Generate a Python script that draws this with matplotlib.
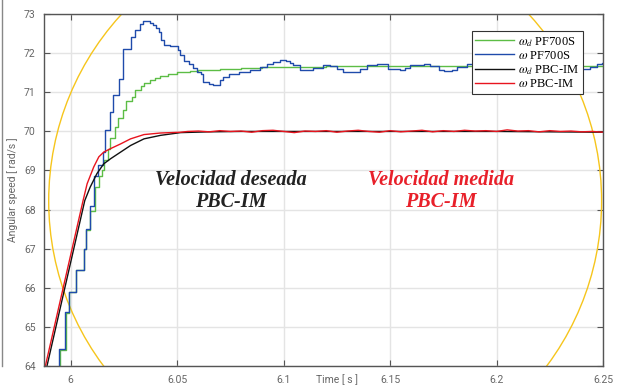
import matplotlib
matplotlib.use("Agg")
import matplotlib.pyplot as plt
from matplotlib.patches import Ellipse
from matplotlib.lines import Line2D

# PF700S reference and measured speed (sampled, held between samples)
t_pf_d = [5.9920, 5.9948, 5.9977, 5.9992, 6.0026, 6.0063, 6.0073, 6.0092, 6.0115,
          6.0132, 6.0145, 6.0155, 6.0175, 6.0185, 6.0210, 6.0220, 6.0245, 6.0260,
          6.0290, 6.0302, 6.0330, 6.0345, 6.0370, 6.0395, 6.0420, 6.0455, 6.0500,
          6.0560, 6.0600, 6.0700, 6.0800, 6.0900, 6.1000, 6.1200, 6.2510]
w_pf_d = [63.60, 64.40, 65.35, 65.88, 66.44, 66.98, 67.48, 67.97, 68.57,
          68.87, 69.00, 69.26, 69.56, 69.83, 70.11, 70.35, 70.54, 70.78,
          70.88, 71.05, 71.16, 71.25, 71.31, 71.36, 71.42, 71.48, 71.52,
          71.55, 71.58, 71.60, 71.63, 71.65, 71.66, 71.67, 71.67]

t_pf = [5.9920, 5.9945, 5.9975, 5.9990, 6.0025, 6.0061, 6.0071, 6.0089, 6.0110,
        6.0128, 6.0150, 6.0160, 6.0183, 6.0200, 6.0225, 6.0246, 6.0285, 6.0300,
        6.0325, 6.0340, 6.0370, 6.0385, 6.0400, 6.0415, 6.0425, 6.0440, 6.0465,
        6.0505, 6.0515, 6.0530, 6.0555, 6.0575, 6.0595, 6.0612, 6.0622, 6.0650,
        6.0670, 6.0700, 6.0716, 6.0745, 6.0790, 6.0840, 6.0890, 6.0920, 6.0950,
        6.0983, 6.1010, 6.1030, 6.1045, 6.1075, 6.1124, 6.1140, 6.1187, 6.1218,
        6.1250, 6.1281, 6.1328, 6.1359, 6.1391, 6.1438, 6.1461, 6.1492, 6.1547,
        6.1571, 6.1595, 6.1657, 6.1689, 6.1728, 6.1751, 6.1791, 6.1814, 6.1861,
        6.1900, 6.1950, 6.2000, 6.2050, 6.2100, 6.2150, 6.2200, 6.2250, 6.2300,
        6.2350, 6.2400, 6.2418, 6.2441, 6.2473, 6.2495, 6.2510]
w_pf = [63.60, 64.44, 65.37, 65.89, 66.46, 67.00, 67.50, 68.10, 68.85,
        69.15, 69.48, 70.03, 70.50, 70.93, 71.35, 72.10, 72.42, 72.60,
        72.76, 72.82, 72.78, 72.72, 72.66, 72.55, 72.35, 72.22, 72.18,
        72.08, 71.95, 71.80, 71.72, 71.62, 71.52, 71.48, 71.27, 71.22,
        71.18, 71.31, 71.39, 71.48, 71.52, 71.58, 71.65, 71.74, 71.78,
        71.82, 71.80, 71.76, 71.69, 71.58, 71.58, 71.63, 71.69, 71.68,
        71.61, 71.52, 71.52, 71.61, 71.69, 71.72, 71.72, 71.61, 71.58,
        71.63, 71.69, 71.72, 71.67, 71.58, 71.55, 71.58, 71.65, 71.72,
        71.70, 71.66, 71.62, 71.66, 71.70, 71.64, 71.60, 71.66, 71.70,
        71.64, 71.60, 71.61, 71.65, 71.72, 71.75, 71.75]

# PBC-IM reference and measured speed
t_pbc_d = [5.9872, 6.0066, 6.0091, 6.0123, 6.0155, 6.0187, 6.0234, 6.0281,
           6.0344, 6.0422, 6.0516, 6.0650, 6.0800, 6.2000, 6.2510]
w_pbc_d = [63.60, 68.23, 68.57, 68.92, 69.17, 69.30, 69.47, 69.64,
           69.81, 69.90, 69.97, 69.99, 70.00, 70.00, 69.98]

t_pbc = [5.9872, 6.0058, 6.0077, 6.0108, 6.0132, 6.0155, 6.0187, 6.0234,
         6.0281, 6.0344, 6.0422, 6.0516, 6.055, 6.060, 6.065, 6.070, 6.075,
         6.080, 6.085, 6.090, 6.095, 6.100, 6.105, 6.110, 6.115, 6.120,
         6.125, 6.130, 6.135, 6.140, 6.145, 6.150, 6.155, 6.160, 6.165,
         6.170, 6.175, 6.180, 6.185, 6.190, 6.195, 6.200, 6.205, 6.210,
         6.215, 6.220, 6.225, 6.230, 6.235, 6.240, 6.245, 6.250]
w_pbc = [63.78, 68.23, 68.66, 69.09, 69.35, 69.47, 69.56, 69.68,
         69.81, 69.92, 69.96, 69.98, 70.00, 70.01, 69.99, 70.02, 70.00,
         70.01, 69.98, 70.02, 70.03, 70.00, 69.97, 70.01, 70.00, 70.02,
         69.98, 70.01, 70.03, 70.00, 69.98, 70.02, 69.99, 70.01, 70.03,
         69.99, 70.02, 70.00, 70.03, 70.01, 70.02, 70.00, 70.04, 70.01,
         70.02, 69.99, 70.02, 70.00, 70.01, 69.99, 70.00, 69.98]

xticks = [6, 6.05, 6.1, 6.15, 6.2, 6.25]
xtick_labels = ['6', '6.05', '6.1', '6.15', '6.2', '6.25']
yticks = [64, 65, 66, 67, 68, 69, 70, 71, 72, 73]

plt.rcParams['mathtext.fontset'] = 'stix'

fig = plt.figure(figsize=(6.17, 3.91), dpi=100)
ax = fig.add_axes([0.0713, 0.0647, 0.906, 0.8987])

ax.plot(t_pf_d, w_pf_d, color='#5cbd45', lw=1.0, drawstyle='steps-post',
        label=r'$\omega_d$ PF700S')
ax.plot(t_pf, w_pf, color='#1f4bab', lw=1.0, drawstyle='steps-post',
        label=r'$\omega$ PF700S')
ax.plot(t_pbc_d, w_pbc_d, color='#111111', lw=1.0, label=r'$\omega_d$ PBC-IM')
ax.plot(t_pbc, w_pbc, color='#e8141e', lw=1.0, label=r'$\omega$ PBC-IM')

# highlight circle
ax.add_patch(Ellipse((6.1195, 68.22), 0.2597, 14.14, fill=False,
                     edgecolor='#f6c51c', lw=1.0, zorder=1))

ax.set_xlim(5.98744, 6.25)
ax.set_ylim(64, 73)
ax.set_xticks(xticks)
ax.set_xticklabels(xtick_labels)
ax.set_yticks(yticks)
ax.grid(True, color='#e4e4e4', lw=1.0)
ax.set_axisbelow(True)

for s in ax.spines.values():
    s.set_color('#555555')
    s.set_linewidth(1.0)
ax.tick_params(direction='in', length=4, width=0.8, color='#555555',
               labelcolor='#666666', labelsize=7.5, top=True, right=True)
ax.tick_params(axis='x', pad=7)
ax.tick_params(axis='y', pad=6)
for lbl in ax.get_xticklabels() + ax.get_yticklabels():
    lbl.set_family('Roboto')

ax.set_xlabel('Time [ s ]', fontsize=7.5, color='#666666', family='Roboto')
ax.xaxis.set_label_coords(0.524, -0.041)
ax.xaxis.label.set_va('center')
ax.set_ylabel('Angular speed [ rad/s ]', fontsize=7.5, color='#666666', family='Roboto')
ax.yaxis.set_label_coords(-0.0555, 0.5)
ax.yaxis.label.set_va('center')

leg = ax.legend(loc='upper left', bbox_to_anchor=(0.765, 0.9525), borderaxespad=0,
                fancybox=False, framealpha=1, edgecolor='#333333',
                prop={'family': 'Liberation Serif', 'size': 9},
                handlelength=3.1, handletextpad=0.3, labelspacing=0.1,
                borderpad=0.3)
leg.get_frame().set_linewidth(0.8)

ax.text(6.0753, 68.47, 'Velocidad deseada\nPBC-IM', ha='center', va='center',
        family='Liberation Serif', style='italic', weight='bold', fontsize=14.5,
        color='#222222', linespacing=1.1)
ax.text(6.174, 68.47, 'Velocidad medida\nPBC-IM', ha='center', va='center',
        family='Liberation Serif', style='italic', weight='bold', fontsize=14.5,
        color='#e8202a', linespacing=1.1)

# thin border on the left edge of the page
fig.add_artist(Line2D([0.003, 0.003], [0.064, 1.0], color='#888888', lw=1.0))

fig.savefig('out.png', dpi=100)
